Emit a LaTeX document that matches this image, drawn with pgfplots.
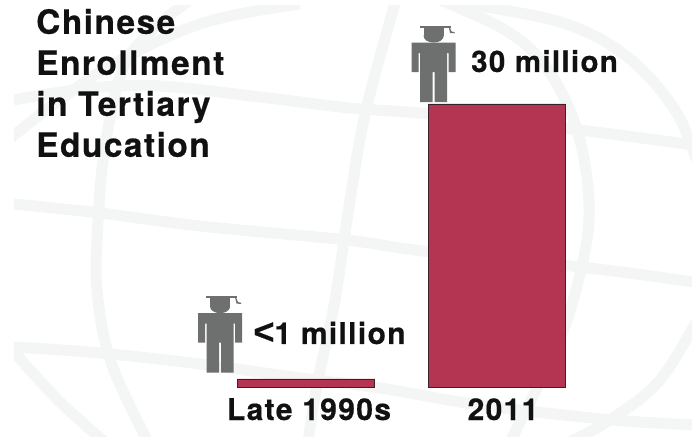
\documentclass[border=0pt]{standalone}
\usepackage{fontspec}
\setmainfont{TeX Gyre Heros}[BoldFeatures={LetterSpace=4.5,FakeBold=0.5}]
\newfontfamily\symfont{Liberation Sans}[BoldFeatures={FakeBold=0.5}]
\usepackage{pgfplots}
\pgfplotsset{compat=1.18}
\definecolor{barred}{HTML}{B43552}
\definecolor{baredge}{HTML}{3A2028}
\definecolor{icongray}{HTML}{6E7070}
\definecolor{globe}{HTML}{F4F6F6}
\definecolor{ink}{HTML}{111111}

% Graduate figure: origin at the feet, 1 unit = 1pt
\pgfdeclareplotmark{graduate}{%
  \pgfsetcornersarced{\pgfpoint{3.4pt}{3.4pt}}%
  % shoulders and arms
  \pgfpathmoveto{\pgfpoint{-22pt}{45pt}}%
  \pgfpathlineto{\pgfpoint{-22pt}{30pt}}%
  \pgfpathlineto{\pgfpoint{-15pt}{30pt}}%
  \pgfpathlineto{\pgfpoint{-15pt}{49pt}}%
  \pgfpathlineto{\pgfpoint{15pt}{49pt}}%
  \pgfpathlineto{\pgfpoint{15pt}{30pt}}%
  \pgfpathlineto{\pgfpoint{22pt}{30pt}}%
  \pgfpathlineto{\pgfpoint{22pt}{52pt}}%
  \pgfsetcornersarced{\pgfpoint{6pt}{6pt}}%
  \pgfpathlineto{\pgfpoint{22pt}{59.5pt}}%
  \pgfpathlineto{\pgfpoint{-22pt}{59.5pt}}%
  \pgfpathlineto{\pgfpoint{-22pt}{45pt}}%
  \pgfpathclose
  \pgfusepathqfill
  % torso and legs
  \pgfsetcornersarced{\pgfpoint{3.4pt}{3.4pt}}%
  \pgfpathmoveto{\pgfpoint{-13.5pt}{52pt}}%
  \pgfpathlineto{\pgfpoint{-13.5pt}{0pt}}%
  \pgfpathlineto{\pgfpoint{-1pt}{0pt}}%
  \pgfpathlineto{\pgfpoint{-1pt}{30pt}}%
  \pgfpathlineto{\pgfpoint{1pt}{30pt}}%
  \pgfpathlineto{\pgfpoint{1pt}{0pt}}%
  \pgfpathlineto{\pgfpoint{13.5pt}{0pt}}%
  \pgfpathlineto{\pgfpoint{13.5pt}{52pt}}%
  \pgfpathclose
  \pgfusepathqfill
  \pgfsetcornersarced{\pgfpointorigin}%
  % head and mortarboard
  \pgfpathellipse{\pgfpoint{0pt}{66pt}}{\pgfpoint{10pt}{0pt}}{\pgfpoint{0pt}{6.5pt}}%
  \pgfusepathqfill
  \pgfpathmoveto{\pgfpoint{-10pt}{75pt}}%
  \pgfpathlineto{\pgfpoint{10pt}{75pt}}%
  \pgfpathlineto{\pgfpoint{10pt}{66pt}}%
  \pgfpathlineto{\pgfpoint{-10pt}{66pt}}%
  \pgfpathclose
  \pgfusepathqfill
  \pgfpathmoveto{\pgfpoint{-14pt}{76.5pt}}%
  \pgfpathlineto{\pgfpoint{17pt}{76.5pt}}%
  \pgfpathlineto{\pgfpoint{17pt}{74.5pt}}%
  \pgfpathlineto{\pgfpoint{-14pt}{74.5pt}}%
  \pgfpathclose
  \pgfusepathqfill
  \pgfpathmoveto{\pgfpoint{15pt}{75pt}}%
  \pgfpathlineto{\pgfpoint{16pt}{75pt}}%
  \pgfpathlineto{\pgfpoint{18pt}{70.5pt}}%
  \pgfpathlineto{\pgfpoint{21pt}{70pt}}%
  \pgfpathlineto{\pgfpoint{21pt}{68.8pt}}%
  \pgfpathlineto{\pgfpoint{16.5pt}{69pt}}%
  \pgfpathclose
  \pgfusepathqfill
}

\begin{document}
\begin{tikzpicture}
\useasboundingbox (0,-49pt) rectangle (692pt,387pt);
\fill[white] (0,-49pt) rectangle (692pt,387pt);

% Faint globe behind the chart; y runs downwards from the top edge
\begin{scope}[x=1pt,y=-1pt,yshift=387pt]
  \clip (14,6) rectangle (692,436);
  \begin{scope}[draw=globe,line width=11pt,line cap=butt]
    % outer rim
    \draw plot[smooth,tension=0.6] coordinates {(300,4) (200,24) (100,72) (8,140)};
    \draw plot[smooth,tension=0.6] coordinates {(465,4) (560,22) (625,55) (675,110) (700,170)};
    \draw plot[smooth,tension=0.6] coordinates {(700,315) (660,380) (613,418) (570,442)};
    \draw plot[smooth,tension=0.6] coordinates {(14,352) (60,402) (105,442)};
    % meridians
    \draw plot[smooth,tension=0.6] coordinates {(190,0) (130,55) (106,140) (97,240) (98,300) (112,365) (148,442)};
    \draw plot[smooth,tension=0.6] coordinates {(396,0) (366,110) (350,200) (335,300) (317,385) (308,442)};
    \draw plot[smooth,tension=0.6] coordinates {(440,0) (505,30) (546,67) (578,133) (589,217) (573,301) (548,365) (510,442)};
    % parallels
    \draw plot[smooth,tension=0.6] coordinates {(14,100) (90,88) (160,86) (260,97) (350,108) (430,114) (579,130) (700,146)};
    \draw plot[smooth,tension=0.6] coordinates {(14,204) (100,213) (200,226) (346,240) (423,251) (589,268) (700,283)};
    \draw plot[smooth,tension=0.6] coordinates {(14,347) (100,353) (200,364) (300,378) (380,388) (480,405) (613,420) (700,425)};
  \end{scope}
\end{scope}

\begin{axis}[
  at={(0,0)}, anchor=south west,
  scale only axis, width=692pt, height=387pt,
  xmin=-1.6063, xmax=2.0262, ymin=0, ymax=41.02,
  axis line style={draw=none}, tick style={draw=none},
  axis x line*=bottom, axis y line*=left,
  xtick={0,1}, ytick=\empty,
  xticklabels={\hspace*{6pt}Late 1990s,\hspace*{13pt}2011},
  xticklabel style={anchor=base, yshift=-33pt, text=ink,
    font=\bfseries\fontsize{30}{30}\selectfont},
  clip=false,
]
\addplot[ybar, bar width=137pt, fill=barred, draw=baredge, line width=0.9pt]
  coordinates {(0,0.85) (1,30)};
\addplot[only marks, mark=graduate, mark options={fill=icongray,draw=none}, color=icongray]
  coordinates {(-0.451,1.52) (0.67,30.2)};
\node[anchor=base west, inner sep=0, text=ink, font=\bfseries\fontsize{29.5}{30}\selectfont]
  at (axis cs:0.866,33.39) {30 million};
\node[anchor=base west, inner sep=0, text=ink, font=\bfseries\fontsize{30}{30}\selectfont]
  at (axis cs:-0.277,4.558) {{\symfont\fontsize{36}{36}\selectfont <}1 million};
\node[anchor=north west, inner sep=0, align=left, text=ink,
      font=\bfseries\fontsize{33.4}{41}\selectfont]
  at (axis cs:-1.417,40.1) {Chinese\\Enrollment\\in Tertiary\\Education};
\end{axis}
\end{tikzpicture}
\end{document}
